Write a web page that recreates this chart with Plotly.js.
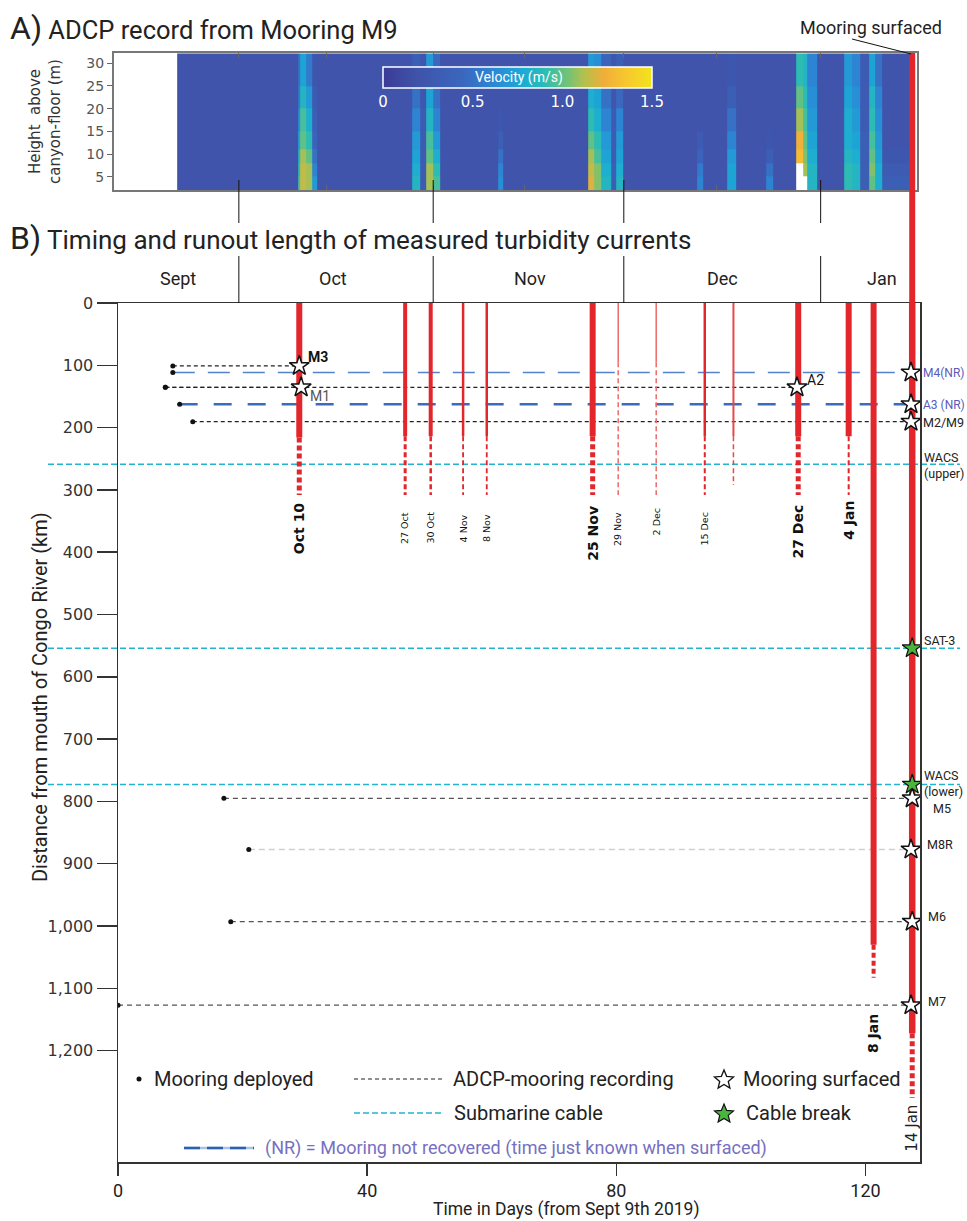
<!DOCTYPE html>
<html><head><meta charset="utf-8">
<script src="https://cdn.plot.ly/plotly-3.0.1.min.js"></script>
<style>html,body{margin:0;padding:0;background:#fff;}#chart{width:967px;height:1221px;}</style>
</head><body><div id="chart"></div>
<script>
// ================= DATA =================
const monthNames = ['Sept', 'Oct', 'Nov', 'Dec', 'Jan'];
const monthCenters = [9.6, 34.5, 66.1, 97.0, 122.6];
const monthEdges = [19.4, 50.6, 81.2, 112.8];

const eventLabels = ['Oct 10', '27 Oct', '30 Oct', '4 Nov', '8 Nov', '25 Nov', '29 Nov', '2 Dec', '15 Dec', '', '27 Dec', '4 Jan', '8 Jan', '14 Jan'];
const eventDays = [29.1, 46.1, 50.2, 55.4, 59.2, 76.2, 80.3, 86.4, 94.2, 98.8, 109.2, 117.3, 121.3, 127.5];
const eventSolidKm = [216, 214, 214, 214, 214, 214, 95, 95, 214, 214, 214, 214, 1030, 1172];
const eventReachKm = [308, 308, 308, 308, 308, 308, 308, 308, 308, 292, 308, 308, 1083, 1276];

const mooringNames = ['M3', 'M4(NR)', 'M1', 'A2', 'A3 (NR)', 'M2/M9', 'M5', 'M8R', 'M6', 'M7'];
const mooringKm = [101, 111.5, 135.4, 135.4, 162.5, 190.5, 795, 877, 993, 1127];
const deployDay = [8.8, 8.8, 7.6, 7.6, 9.9, 12.0, 17.0, 21.0, 18.1, 0];
const surfacedDay = [29.1, 127.3, 29.4, 109.0, 127.3, 127.3, 127.5, 127.3, 127.5, 127.3];
const mooringType = ['adcp', 'nr', 'adcp', 'adcp', 'nr', 'adcp', 'deep', 'light', 'deep', 'deep'];

const cableNames = ['WACS<br>(upper)', 'SAT-3', 'WACS<br>(lower)'];
const cableKm = [259, 554, 773];
const cableBreakDay = [null, 127.5, 127.5];

// ADCP record (Mooring M9): time bins (days), height bins (m), velocity (m/s) per time bin, bottom -> top
const adcpDayEdges = [9.5, 28.9, 29.3, 30.2, 31.2, 31.9, 47.2, 48.5, 49.5, 50.6, 51.7, 61.0, 61.8, 75.4, 76.4, 77.5, 79.2, 80.0, 81.1, 92.9, 94.0, 97.7, 99.3, 104.1, 105.2, 108.9, 110.0, 110.6, 112.2, 116.6, 117.9, 119.2, 120.6, 121.6, 122.7, 127.1];
const adcpHeightEdges = [2.07, 5, 8, 11, 15, 20, 25, 32.2];
const adcpVelocity = [
  [0.2, 0.2, 0.2, 0.2, 0.2, 0.2, 0.2],
  [0.95, 0.9, 0.85, 0.75, 0.65, 0.55, 0.5],
  [1.15, 1.15, 1.1, 1.0, 0.95, 0.85, 0.75],
  [1.1, 1.1, 1.0, 0.9, 0.8, 0.7, 0.55],
  [0.7, 0.6, 0.5, 0.4, 0.35, 0.3, 0.25],
  [0.2, 0.2, 0.2, 0.2, 0.2, 0.2, 0.2],
  [0.85, 0.8, 0.75, 0.7, 0.6, 0.5, 0.35],
  [0.3, 0.3, 0.3, 0.3, 0.3, 0.25, 0.25],
  [1.1, 1.1, 1.0, 0.95, 0.85, 0.75, 0.7],
  [0.95, 0.9, 0.8, 0.7, 0.6, 0.5, 0.45],
  [0.2, 0.2, 0.2, 0.2, 0.2, 0.2, 0.2],
  [0.65, 0.6, 0.5, 0.35, 0.25, 0.2, 0.2],
  [0.2, 0.2, 0.2, 0.2, 0.2, 0.2, 0.2],
  [1.2, 1.15, 1.1, 1.0, 0.9, 0.8, 0.7],
  [1.05, 1.05, 0.95, 0.9, 0.8, 0.75, 0.65],
  [0.85, 0.8, 0.75, 0.7, 0.6, 0.5, 0.4],
  [0.35, 0.35, 0.3, 0.3, 0.3, 0.25, 0.25],
  [0.85, 0.8, 0.75, 0.7, 0.6, 0.45, 0.35],
  [0.2, 0.2, 0.2, 0.2, 0.2, 0.2, 0.2],
  [0.6, 0.55, 0.4, 0.3, 0.2, 0.2, 0.2],
  [0.2, 0.2, 0.2, 0.2, 0.2, 0.2, 0.2],
  [0.75, 0.75, 0.7, 0.6, 0.5, 0.35, 0.25],
  [0.2, 0.2, 0.2, 0.2, 0.2, 0.2, 0.2],
  [0.6, 0.5, 0.35, 0.25, 0.2, 0.2, 0.2],
  [0.2, 0.2, 0.2, 0.2, 0.2, 0.2, 0.2],
  [null, null, 1.3, 1.25, 1.1, 1.0, 0.9],
  [null, 1.1, 1.05, 1.0, 0.95, 0.9, 0.85],
  [0.85, 0.85, 0.8, 0.75, 0.7, 0.65, 0.6],
  [0.2, 0.2, 0.2, 0.2, 0.2, 0.2, 0.2],
  [0.9, 0.9, 0.85, 0.8, 0.8, 0.75, 0.7],
  [0.85, 0.85, 0.8, 0.75, 0.7, 0.65, 0.6],
  [0.35, 0.35, 0.35, 0.35, 0.3, 0.3, 0.3],
  [1.0, 1.05, 1.0, 0.95, 0.9, 0.85, 0.75],
  [0.8, 0.8, 0.75, 0.7, 0.65, 0.6, 0.5],
  [0.35, 0.3, 0.25, 0.2, 0.2, 0.2, 0.2]
];
const velocityTicks = [0, 0.5, 1.0, 1.5];
const velocityTickText = ['0', '0.5', '1.0', '1.5'];

// ================= STYLE / LAYOUT =================
const W = 967, H = 1221;
const PX = x => x / W, PY = y => 1 - y / H;
const FONT = 'Roboto, "Liberation Sans", sans-serif';
const VFONT = '"DejaVu Sans", Verdana, sans-serif';
const RED = '#e2262b';
const INK = '#222';

const eventStyle = [
  {w: 6, dw: 5, col: RED, big: true, top: 316},
  {w: 4, dw: 3, col: RED, big: false, top: 332},
  {w: 4, dw: 2.5, col: RED, big: false, top: 332},
  {w: 2.5, dw: 1.8, col: RED, big: false, top: 336},
  {w: 2.5, dw: 1.8, col: RED, big: false, top: 336},
  {w: 6, dw: 5, col: RED, big: true, top: 322},
  {w: 1.5, dw: 1.5, col: '#ec6a6a', big: false, top: 332},
  {w: 1.5, dw: 1.5, col: '#ec6a6a', big: false, top: 327},
  {w: 2.5, dw: 2, col: RED, big: false, top: 332},
  {w: 2, dw: 1.5, col: '#e84848', big: false, top: 330},
  {w: 6, dw: 5, col: RED, big: true, top: 320},
  {w: 6, dw: 2, col: RED, big: true, top: 314},
  {w: 6, dw: 4, col: RED, big: true, top: 1138},
  {w: 6.5, dw: 5, col: RED, big: false, top: 1284, mid: true}
];

const mooringLineStyle = {
  adcp: {color: '#222', width: 1.2, dash: '4px,3px'},
  deep: {color: '#555', width: 1.2, dash: '5px,4px'},
  light: {color: '#cfcfcf', width: 1.5, dash: '6px,4px'},
  nr: {color: '#3d6fc0', width: 2, dash: '18px,15px'}
};
const nrOverride = {'M4(NR)': {color: '#5583c9', width: 1.5, dash: '22px,13px'}, 'A3 (NR)': {color: '#3a6bbd', width: 2.6, dash: '18px,16px'}};

const mooringLabelStyle = {
  'M3': {inline: true, xs: 7, ys: 9, color: '#111', bold: true},
  'M1': {inline: true, xs: 7, ys: -9, color: '#555'},
  'A2': {inline: true, xs: 8, ys: 7, color: '#111'},
  'M4(NR)': {x: 921, ys: -1, color: '#5b5ab8', size: 12},
  'A3 (NR)': {x: 921, ys: -1, color: '#5b5ab8', size: 12},
  'M2/M9': {x: 921, ys: -1, color: '#222'},
  'M5': {x: 931, ys: -10, color: '#222'},
  'M8R': {x: 925, ys: 5, color: '#222'},
  'M6': {x: 926, ys: 5, color: '#222'},
  'M7': {x: 926, ys: 4, color: '#222'}
};
const cableLabelStyle = [{ys: -1}, {ys: 8}, {ys: 1}];

const parula = [
  [0, '#3b3b96'], [0.12, '#3f52a8'], [0.3, '#3b67bf'], [0.42, '#2a8ad6'], [0.52, '#1aabd5'],
  [0.6, '#2cbcb4'], [0.68, '#6cc27c'], [0.75, '#b5c04c'], [0.82, '#f0ad3a'], [0.9, '#f7c62f'], [1, '#f2e41c']
];

// ================= TRACES =================
const traces = [];

traces.push({
  type: 'heatmap', x: adcpDayEdges, y: adcpHeightEdges, z: adcpVelocity, transpose: true,
  xaxis: 'x2', yaxis: 'y2', zmin: 0, zmax: 1.5, zsmooth: false, colorscale: parula, hoverinfo: 'skip',
  colorbar: {
    orientation: 'h', x: PX(383), xanchor: 'left', y: PY(67), yanchor: 'top',
    len: 269, lenmode: 'pixels', thickness: 21, thicknessmode: 'pixels', xpad: 0, ypad: 0,
    outlinecolor: '#ffffff', outlinewidth: 1.5, ticks: '', tickvals: velocityTicks, ticktext: velocityTickText,
    tickfont: {family: VFONT, size: 15, color: '#ffffff'}, ticklabelposition: 'outside bottom'
  }
});

// mooring recording lines
mooringNames.forEach((n, i) => {
  let st = mooringLineStyle[mooringType[i]];
  if (mooringType[i] === 'nr' && nrOverride[n]) st = nrOverride[n];
  traces.push({type: 'scatter', mode: 'lines', x: [deployDay[i], surfacedDay[i]], y: [mooringKm[i], mooringKm[i]],
    line: {color: st.color, width: st.width, dash: st.dash}, hoverinfo: 'skip', xaxis: 'x', yaxis: 'y'});
});

// turbidity currents
eventDays.forEach((d, i) => {
  const s = eventStyle[i];
  traces.push({type: 'scatter', mode: 'lines', x: [d, d], y: [0, eventSolidKm[i]],
    line: {color: s.col, width: s.w}, hoverinfo: 'skip'});
  traces.push({type: 'scatter', mode: 'lines', x: [d, d], y: [eventSolidKm[i], eventReachKm[i]],
    line: {color: s.col, width: s.dw, dash: '5px,3px'}, hoverinfo: 'skip'});
});

// deployment dots
traces.push({type: 'scatter', mode: 'markers', x: deployDay, y: mooringKm,
  marker: {color: '#111', size: 5}, hoverinfo: 'skip'});

// surfaced stars
traces.push({type: 'scatter', mode: 'markers', x: surfacedDay, y: mooringKm,
  marker: {symbol: 'star', size: 15, color: '#ffffff', line: {color: '#111', width: 1.5}}, hoverinfo: 'skip'});

// cable breaks
const brkX = [], brkY = [];
cableBreakDay.forEach((d, i) => { if (d !== null) { brkX.push(d); brkY.push(cableKm[i]); } });
traces.push({type: 'scatter', mode: 'markers', x: brkX, y: brkY,
  marker: {symbol: 'star', size: 15, color: '#4bb43f', line: {color: '#111', width: 1.2}}, hoverinfo: 'skip'});

// ================= SHAPES =================
const shapes = [];
cableKm.forEach(k => shapes.push({type: 'line', xref: 'paper', yref: 'y', x0: PX(48), x1: PX(960), y0: k, y1: k,
  line: {color: '#24b3cf', width: 1.5, dash: '6px,3px'}, layer: 'below'}));
monthEdges.forEach(d => {
  shapes.push({type: 'line', xref: 'x', yref: 'paper', x0: d, x1: d, y0: PY(180), y1: PY(223), line: {color: '#111', width: 1}});
  shapes.push({type: 'line', xref: 'x', yref: 'paper', x0: d, x1: d, y0: PY(256), y1: PY(303), line: {color: '#111', width: 1}});
});
// surfaced mooring line continuing up into panel A
shapes.push({type: 'line', xref: 'x', yref: 'paper', x0: eventDays[13], x1: eventDays[13], y0: PY(303), y1: PY(53),
  line: {color: RED, width: 6}});
shapes.push({type: 'line', xref: 'paper', yref: 'paper', x0: PX(852), y0: PY(39), x1: PX(911), y1: PY(54), line: {color: '#111', width: 1}});

// legend graphics
function starPath(cx, cy, R) {
  const pts = [];
  for (let k = 0; k < 10; k++) {
    const a = -Math.PI / 2 + k * Math.PI / 5, r = k % 2 === 0 ? R : R * 0.45;
    pts.push(PX(cx + r * Math.cos(a)).toFixed(5) + ',' + PY(cy + r * Math.sin(a)).toFixed(5));
  }
  return 'M' + pts.join(' L') + ' Z';
}
shapes.push({type: 'circle', xref: 'paper', yref: 'paper', x0: PX(136.5), x1: PX(141.5), y0: PY(1081.5), y1: PY(1076.5), fillcolor: '#111', line: {width: 0}});
shapes.push({type: 'line', xref: 'paper', yref: 'paper', x0: PX(354), x1: PX(443), y0: PY(1079), y1: PY(1079), line: {color: '#222', width: 1.2, dash: '4px,3px'}});
shapes.push({type: 'line', xref: 'paper', yref: 'paper', x0: PX(354), x1: PX(441), y0: PY(1113), y1: PY(1113), line: {color: '#24b3cf', width: 1.5, dash: '6px,3px'}});
shapes.push({type: 'path', xref: 'paper', yref: 'paper', path: starPath(724, 1080, 10), fillcolor: '#ffffff', line: {color: '#111', width: 1.3}});
shapes.push({type: 'path', xref: 'paper', yref: 'paper', path: starPath(724, 1114, 10), fillcolor: '#4bb43f', line: {color: '#111', width: 1.2}});
shapes.push({type: 'line', xref: 'paper', yref: 'paper', x0: PX(184), x1: PX(254), y0: PY(1148), y1: PY(1148), line: {color: '#a9c2e6', width: 2.5}});
shapes.push({type: 'line', xref: 'paper', yref: 'paper', x0: PX(184), x1: PX(254), y0: PY(1148), y1: PY(1148), line: {color: '#2d5fb0', width: 2.5, dash: '16px,7px'}});

// ================= ANNOTATIONS =================
const ann = [];
const txt = (x, y, text, o = {}) => Object.assign({xref: 'paper', yref: 'paper', x: PX(x), y: PY(y), text, showarrow: false,
  xanchor: 'left', yanchor: 'middle', font: {family: FONT, size: 19, color: INK}}, o);

ann.push(txt(8, 28, '<span style="font-size:32px">A)</span> ADCP record from Mooring M9', {font: {family: FONT, size: 25.5, color: INK}}));
ann.push(txt(8, 238, '<span style="font-size:32px">B)</span> Timing and runout length of measured turbidity currents', {font: {family: FONT, size: 26, color: INK}}));
ann.push(txt(944, 28, 'Mooring surfaced', {xanchor: 'right', font: {family: FONT, size: 18, color: INK}}));
ann.push(txt(519, 78, 'Velocity (m/s)', {xanchor: 'center', font: {family: FONT, size: 14, color: '#ffffff'}}));
ann.push(txt(45, 122, 'Height  above<br>canyon-floor (m)', {xanchor: 'center', textangle: -90, font: {family: VFONT, size: 15, color: '#333'}}));
ann.push(txt(40, 697, 'Distance from mouth of Congo River (km)', {xanchor: 'center', textangle: -90, font: {family: FONT, size: 20, color: INK}}));
ann.push(txt(566, 1209, 'Time in Days (from Sept 9th 2019)', {xanchor: 'center', font: {family: FONT, size: 17.5, color: INK}}));

monthNames.forEach((m, i) => ann.push({xref: 'x', yref: 'paper', x: monthCenters[i], y: PY(278), text: m, showarrow: false,
  xanchor: 'center', yanchor: 'middle', font: {family: FONT, size: 18, color: INK}}));

eventLabels.forEach((l, i) => {
  if (!l) return;
  const s = eventStyle[i];
  const f = s.big ? {family: VFONT, size: 14, color: '#111', weight: 'bold'} : (s.mid ? {family: VFONT, size: 15, color: '#222'} : {family: VFONT, size: 9.5, color: '#111'});
  ann.push({xref: 'x', yref: 'y', x: eventDays[i], y: s.top, text: s.big ? '<b>' + l + '</b>' : l, textangle: -90, showarrow: false,
    xanchor: 'center', yanchor: 'top', font: f});
});

mooringNames.forEach((n, i) => {
  const s = mooringLabelStyle[n];
  const text = s.bold ? '<b>' + n + '</b>' : n;
  if (s.inline) {
    ann.push({xref: 'x', yref: 'y', x: surfacedDay[i], y: mooringKm[i], xshift: s.xs, yshift: s.ys, text, showarrow: false,
      xanchor: 'left', yanchor: 'middle', font: {family: FONT, size: 14, color: s.color}});
  } else {
    ann.push({xref: 'paper', yref: 'y', x: PX(s.x), y: mooringKm[i], yshift: s.ys, text, showarrow: false,
      xanchor: 'left', yanchor: 'middle', font: {family: FONT, size: s.size || 12.5, color: s.color}});
  }
});
cableNames.forEach((n, i) => ann.push({xref: 'paper', yref: 'y', x: PX(922), y: cableKm[i], yshift: cableLabelStyle[i].ys, text: n, showarrow: false,
  xanchor: 'left', yanchor: 'middle', align: 'left', font: {family: FONT, size: 12.5, color: INK}}));

// legend texts
ann.push(txt(152, 1079, 'Mooring deployed', {font: {family: FONT, size: 20, color: INK}}));
ann.push(txt(451, 1079, 'ADCP-mooring recording', {font: {family: FONT, size: 20, color: INK}}));
ann.push(txt(741, 1079, 'Mooring surfaced', {font: {family: FONT, size: 20, color: INK}}));
ann.push(txt(452, 1113, 'Submarine cable', {font: {family: FONT, size: 20, color: INK}}));
ann.push(txt(744, 1113, 'Cable break', {font: {family: FONT, size: 20, color: INK}}));
ann.push(txt(263, 1148, '(NR) = Mooring not recovered (time just known when surfaced)', {font: {family: FONT, size: 18, color: '#7670c2'}}));

// ================= LAYOUT =================
const layout = {
  width: W, height: H, margin: {l: 0, r: 0, t: 0, b: 0, autoexpand: false},
  paper_bgcolor: '#ffffff', plot_bgcolor: '#ffffff', showlegend: false, hovermode: false,
  xaxis: {domain: [PX(118), PX(920)], range: [0, 128.75], anchor: 'y', tickvals: [0, 40, 80, 120],
    ticks: 'outside', ticklen: 12, tickwidth: 1.5, tickcolor: '#333', showline: true, linecolor: '#333', linewidth: 1.5,
    mirror: true, showgrid: false, zeroline: false, tickfont: {family: FONT, size: 18, color: INK}},
  yaxis: {domain: [PY(1162), PY(303)], range: [1378.8, 0], anchor: 'x', tickvals: [0, 100, 200, 300, 400, 500, 600, 700, 800, 900, 1000, 1100, 1200],
    tickformat: ',d', ticks: 'outside', ticklen: 20, tickwidth: 1.5, tickcolor: '#333', showline: true, linecolor: '#333', linewidth: 1.5,
    mirror: true, showgrid: false, zeroline: false, tickfont: {family: VFONT, size: 16, color: '#333'}},
  xaxis2: {domain: [PX(114), PX(917)], range: [-0.64, 128.25], anchor: 'y2', tickvals: [19.4, 33.5, 50.6, 65.3, 81.2, 96.0, 112.8],
    ticks: 'inside', ticklen: 5, tickcolor: '#666', showticklabels: false, showline: true, linecolor: '#777', linewidth: 2,
    mirror: 'allticks', showgrid: false, zeroline: false},
  yaxis2: {domain: [PY(190), PY(53.3)], range: [2.07, 32.2], anchor: 'x2', tickvals: [5, 10, 15, 20, 25, 30],
    ticks: 'outside', ticklen: 5, tickcolor: '#666', showline: true, linecolor: '#777', linewidth: 2, mirror: true,
    showgrid: false, zeroline: false, tickfont: {family: VFONT, size: 14, color: '#555'}},
  shapes, annotations: ann
};

Plotly.newPlot('chart', traces, layout, {staticPlot: true, displayModeBar: false});
</script></body></html>
